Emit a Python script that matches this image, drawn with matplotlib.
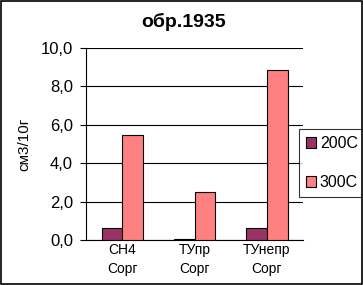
import numpy as np
import matplotlib.pyplot as plt
from matplotlib.patches import Rectangle

# Data
categories = ["СН4\nСорг", "ТУпр\nСорг", "ТУнепр\nСорг"]
series_names = ["200C", "300C"]
vals_200 = [0.6, 0.05, 0.6]
vals_300 = [5.45, 2.5, 8.85]
yticks = [0, 2, 4, 6, 8, 10]
colors = ["#993366", "#FF8080"]

plt.rcParams["font.family"] = ["Liberation Sans", "DejaVu Sans"]

fig = plt.figure(figsize=(3.63, 2.85), dpi=100)
ax = fig.add_axes([0.237, 0.158, 0.598, 0.674])

x = np.arange(len(categories))
w = 1 / 3.5
ax.bar(x - w / 2, vals_200, w, color=colors[0], edgecolor="black", linewidth=0.8,
       label=series_names[0], zorder=3)
ax.bar(x + w / 2, vals_300, w, color=colors[1], edgecolor="black", linewidth=0.8,
       label=series_names[1], zorder=3)

ax.set_xlim(-0.5, 2.5)
ax.set_ylim(0, 10)
ax.set_yticks(yticks)
ax.set_yticklabels([f"{v:.1f}".replace(".", ",") for v in yticks], fontsize=12)
ax.set_xticks(x)
ax.set_xticklabels(categories, fontsize=10, linespacing=1.5)
ax.tick_params(axis="x", length=0, pad=2)
ax.tick_params(axis="y", length=4.3, width=0.8, direction="out", pad=5)
ax.yaxis.grid(True, color="black", linewidth=0.8, zorder=0)
for s in ["top", "right"]:
    ax.spines[s].set_visible(False)
for s in ["left", "bottom"]:
    ax.spines[s].set_linewidth(0.8)

ax.set_ylabel("см3/10г", fontsize=11, labelpad=7)
fig.text(0.505, 0.923, "обр.1935", ha="center", va="center", fontsize=14,
         fontweight="bold")

leg = ax.legend(loc="upper left", bbox_to_anchor=(299 / 363, 1 - 129 / 285),
                bbox_transform=fig.transFigure, frameon=True,
                fancybox=False, edgecolor="black", fontsize=11.5,
                handlelength=0.6, handleheight=0.6, handletextpad=0.25,
                labelspacing=1.5, borderpad=0.45, borderaxespad=0)
leg.get_frame().set_linewidth(0.8)

fig.patches.append(Rectangle((0.002, 0.003), 0.995, 0.994, transform=fig.transFigure,
                             fill=False, edgecolor="black", linewidth=1.2))

fig.savefig("out.png", dpi=100)
